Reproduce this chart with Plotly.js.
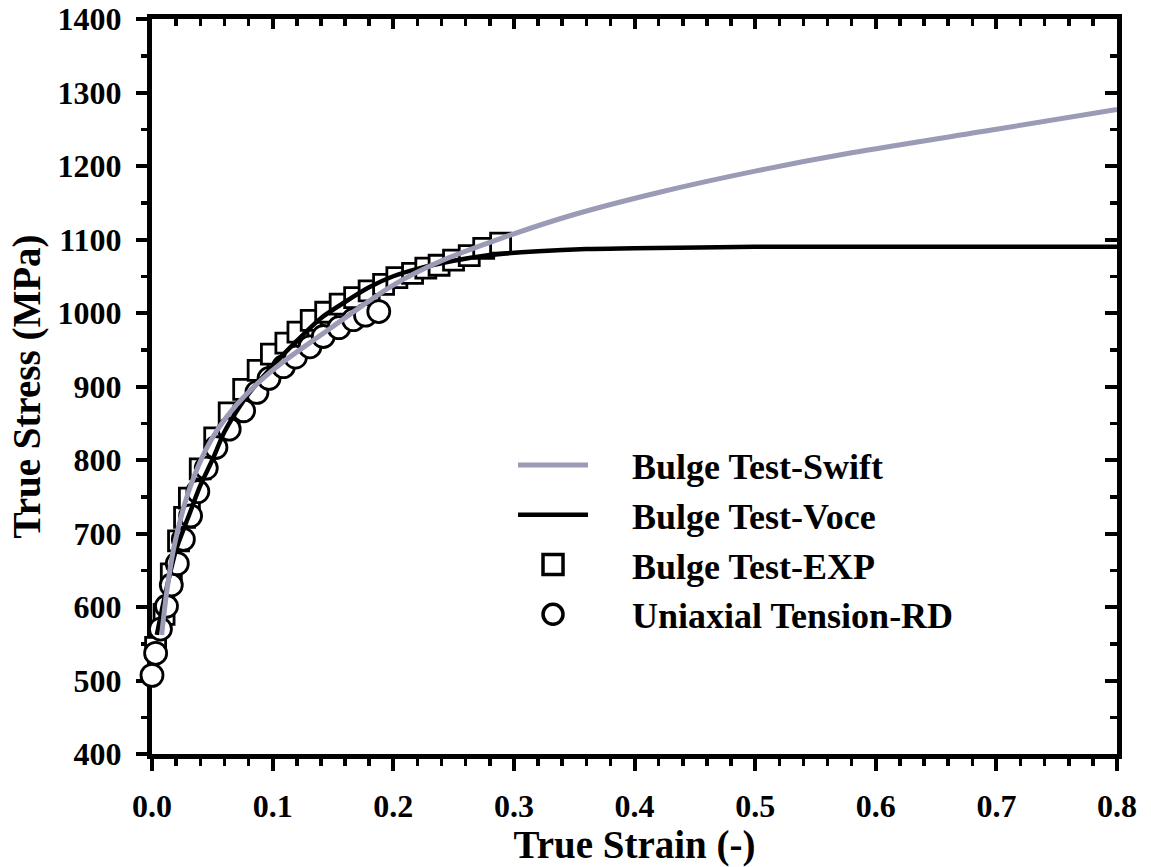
<!DOCTYPE html>
<html>
<head>
<meta charset="utf-8">
<script src="https://cdn.plot.ly/plotly-3.0.1.min.js"></script>
<style>
  html, body { margin: 0; padding: 0; background: #ffffff; }
  #chart { width: 1151px; height: 867px; }
</style>
</head>
<body>
<div id="chart"></div>
<script>
// Swift hardening fit to the bulge test (true strain, true stress in MPa)
const swiftStrain = [0.008, 0.012, 0.018, 0.0274, 0.035, 0.045, 0.055, 0.07, 0.09, 0.11, 0.14, 0.17, 0.20, 0.24, 0.29, 0.35, 0.42, 0.50, 0.58, 0.70, 0.80];
const swiftStress = [562, 618, 680, 742, 778, 815, 843, 875, 908, 935, 970, 1005, 1038, 1071, 1102, 1134, 1164, 1193, 1218, 1250, 1277];

// Voce hardening fit to the bulge test
const voceStrain = [0.004, 0.01, 0.02, 0.03, 0.04, 0.05, 0.06, 0.07, 0.08, 0.10, 0.12, 0.14, 0.16, 0.18, 0.20, 0.22, 0.25, 0.28, 0.32, 0.36, 0.40, 0.50, 0.60, 0.80];
const voceStress = [562, 610, 678, 722, 765, 800, 838, 866, 890, 928, 962, 993, 1015, 1035, 1050, 1060, 1071, 1079, 1084, 1087, 1088, 1090, 1090, 1090];

// Bulge test measurements
const expStrain = [0.003, 0.010, 0.016, 0.022, 0.027, 0.031, 0.040, 0.052, 0.064, 0.076, 0.088, 0.099, 0.111, 0.121, 0.132, 0.144, 0.156, 0.168, 0.180, 0.192, 0.203, 0.216, 0.227, 0.238, 0.250, 0.263, 0.275, 0.289];
const expStress = [545, 590, 645, 690, 722, 748, 788, 830, 864, 896, 922, 944, 959, 974, 990, 1001, 1012, 1021, 1030, 1039, 1048, 1054, 1061, 1065, 1072, 1078, 1088, 1095];

// Uniaxial tension, rolling direction
const uniStrain = [0.000, 0.003, 0.007, 0.012, 0.016, 0.021, 0.026, 0.032, 0.038, 0.045, 0.053, 0.064, 0.076, 0.087, 0.097, 0.109, 0.119, 0.131, 0.142, 0.155, 0.167, 0.177, 0.188];
const uniStress = [507, 537, 570, 601, 630, 659, 692, 724, 757, 789, 817, 842, 867, 892, 911, 927, 940, 954, 968, 980, 991, 997, 1002];

const seriesNames = ['Bulge Test-Swift', 'Bulge Test-Voce', 'Bulge Test-EXP', 'Uniaxial Tension-RD'];
const xTitle = 'True Strain (-)';
const yTitle = 'True Stress (MPa)';

const FONT = 'Liberation Serif, Times New Roman, serif';
const GRAY = '#9b9bb5';

const traces = [
  {
    x: expStrain, y: expStress, name: seriesNames[2], legendrank: 3,
    mode: 'markers', type: 'scatter', cliponaxis: false,
    marker: { symbol: 'square', size: 20, color: '#ffffff', line: { color: '#000000', width: 2.8 } }
  },
  {
    x: uniStrain, y: uniStress, name: seriesNames[3], legendrank: 4,
    mode: 'markers', type: 'scatter', cliponaxis: false,
    marker: { symbol: 'circle', size: 22, color: '#ffffff', line: { color: '#000000', width: 2.8 } }
  },
  {
    x: voceStrain, y: voceStress, name: seriesNames[1], legendrank: 2,
    mode: 'lines', type: 'scatter',
    line: { color: '#000000', width: 4.5, shape: 'spline', smoothing: 0.8 }
  },
  {
    x: swiftStrain, y: swiftStress, name: seriesNames[0], legendrank: 1,
    mode: 'lines', type: 'scatter',
    line: { color: GRAY, width: 5, shape: 'spline', smoothing: 0.8 }
  },
  // carrier for the mirrored top/right axes
  { x: [], y: [], xaxis: 'x2', yaxis: 'y2', showlegend: false, hoverinfo: 'skip', type: 'scatter' }
];

const tickFont = { family: FONT, size: 32, color: '#000000', weight: 'bold' };
const titleFont = { family: FONT, size: 39, color: '#000000', weight: 'bold' };

const layout = {
  width: 1151, height: 867,
  margin: { l: 152, r: 34, t: 19, b: 113 },
  paper_bgcolor: '#ffffff', plot_bgcolor: '#ffffff',
  font: { family: FONT, color: '#000000' },
  showlegend: true,
  legend: {
    x: 0.3337, xanchor: 'left', y: 0.434, yanchor: 'top',
    bgcolor: 'rgba(0,0,0,0)', borderwidth: 0,
    font: { family: FONT, size: 36, color: '#000000', weight: 'bold' },
    itemwidth: 148, traceorder: 'normal', tracegroupgap: 0
  },
  xaxis: {
    range: [0, 0.8], dtick: 0.1, tick0: 0, tickformat: '.1f',
    showgrid: false, zeroline: false,
    showline: true, linecolor: '#000000', linewidth: 5, mirror: true,
    ticks: 'outside', ticklen: 12, tickwidth: 4, tickcolor: '#000000',
    minor: { dtick: 0.02, ticks: 'outside', ticklen: 7, tickwidth: 3.5, tickcolor: '#000000' },
    tickfont: tickFont, ticklabelstandoff: 8,
    title: { text: xTitle, font: titleFont, standoff: 12 },
    layer: 'below traces'
  },
  yaxis: {
    range: [400, 1400], dtick: 100, tick0: 400,
    showgrid: false, zeroline: false,
    showline: true, linecolor: '#000000', linewidth: 5, mirror: true,
    ticks: 'outside', ticklen: 11, tickwidth: 4, tickcolor: '#000000',
    minor: { dtick: 50, ticks: 'outside', ticklen: 6, tickwidth: 3.5, tickcolor: '#000000' },
    tickfont: tickFont, ticklabelstandoff: 8,
    title: { text: yTitle, font: titleFont, standoff: 6 },
    layer: 'below traces'
  },
  xaxis2: {
    overlaying: 'x', anchor: 'y2', side: 'top',
    range: [0, 0.8], dtick: 0.1, tick0: 0,
    showgrid: false, zeroline: false, showline: false, showticklabels: false,
    ticks: 'inside', ticklen: 10, tickwidth: 4, tickcolor: '#000000',
    minor: { dtick: 0.02, ticks: 'inside', ticklen: 7, tickwidth: 3.5, tickcolor: '#000000' }
  },
  yaxis2: {
    overlaying: 'y', anchor: 'x2', side: 'right',
    range: [400, 1400], dtick: 100, tick0: 400,
    showgrid: false, zeroline: false, showline: false, showticklabels: false,
    ticks: 'inside', ticklen: 12, tickwidth: 4, tickcolor: '#000000',
    minor: { dtick: 50, ticks: 'inside', ticklen: 7, tickwidth: 3.5, tickcolor: '#000000' }
  }
};

Plotly.newPlot('chart', traces, layout, { staticPlot: true, displayModeBar: false }).then(function (gd) {
  // lengthen the legend line samples and centre them on the symbol column
  const center = (148 + 10) / 2;
  gd.querySelectorAll('.legend .legendlines path').forEach(function (p) {
    p.setAttribute('d', 'M' + (center - 35) + ',0h70');
  });
  // enlarge the legend marker samples a little
  gd.querySelectorAll('.legend .legendpoints path.scatterpts').forEach(function (p) {
    const t = p.getAttribute('transform') || '';
    p.setAttribute('transform', t + ' scale(1.25)');
  });
});
</script>
</body>
</html>
